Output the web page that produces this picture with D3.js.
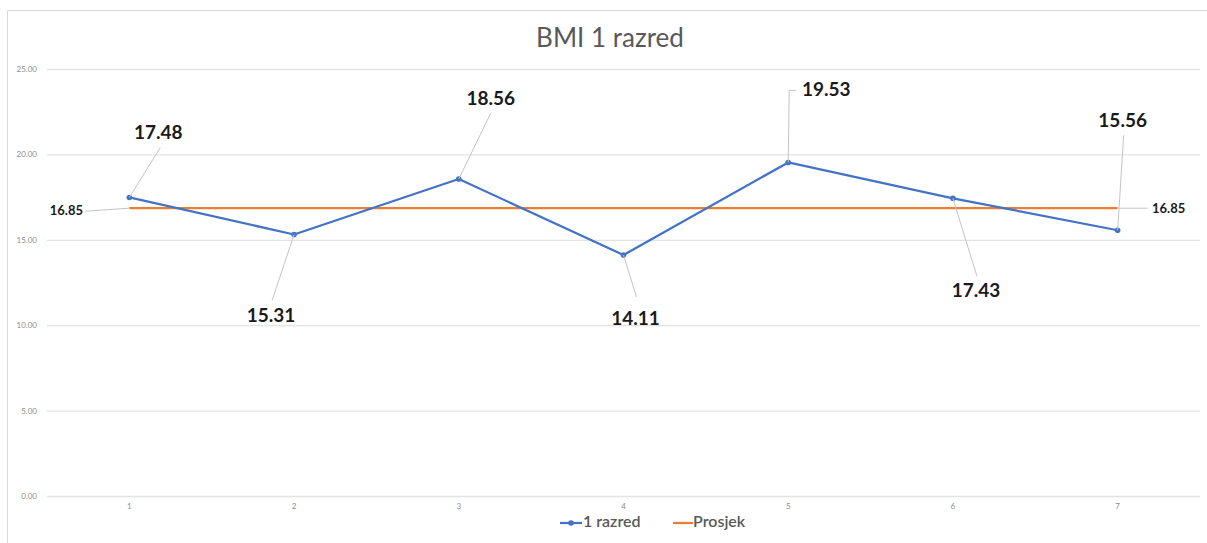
<!DOCTYPE html>
<html><head><meta charset="utf-8">
<script src="https://cdn.jsdelivr.net/npm/d3@7/dist/d3.min.js"></script>
<style>html,body{margin:0;padding:0;background:#fff;}svg{display:block;}</style>
</head><body>
<svg id="c" width="1207" height="543"></svg>
<script>
const title = "BMI 1 razred";
const categories = ["1","2","3","4","5","6","7"];
const seriesName = "1 razred";
const values = [17.48, 15.31, 18.56, 14.11, 19.53, 17.43, 15.56];
const avgName = "Prosjek";
const avgValues = [16.85, 16.85, 16.85, 16.85, 16.85, 16.85, 16.85];
const yTicks = [0, 5, 10, 15, 20, 25];

// label layout offsets (pixels from point): label centre dx,dy and leader end lx,ly
const labelLayout = [
  {dx:29, dy:-63, lx:31, ly:-50},
  {dx:-23, dy:83, lx:-22, ly:66},
  {dx:32, dy:-79, lx:32, ly:-66},
  {dx:12, dy:65, lx:13, ly:42},
  {dx:38, dy:-71, lx:1, ly:-72, elbow:7},
  {dx:23, dy:94, lx:24, ly:78},
  {dx:5, dy:-108, lx:6, ly:-95}
];

const svg = d3.select("#c");
const W = 1207, H = 543;
const m = {left:47, right:7, top:69, bottom:47};
const x = d3.scaleBand().domain(categories).range([m.left, W - m.right]);
const y = d3.scaleLinear().domain([0, 25]).range([H - m.bottom, m.top]);
const cx = c => x(c) + x.bandwidth()/2;
const font = "Lato, 'Liberation Sans', sans-serif";

// frame
svg.append("line").attr("x1",7.5).attr("x2",7.5).attr("y1",10.5).attr("y2",H).attr("stroke","#d9d9d9");
svg.append("line").attr("x1",7.5).attr("x2",W).attr("y1",10.5).attr("y2",10.5).attr("stroke","#d9d9d9");

// title
svg.append("text").attr("x",610).attr("y",40).attr("text-anchor","middle").attr("dominant-baseline","middle")
  .attr("font-family",font).attr("font-size",26).attr("fill","#595959").text(title);

// grid
const yAxis = d3.axisLeft(y).tickValues(yTicks).tickFormat(d3.format(".2f")).tickSize(-(W - m.right - m.left)).tickPadding(10);
const gy = svg.append("g").attr("transform",`translate(${m.left},0)`).call(yAxis);
gy.select(".domain").remove();
gy.selectAll(".tick line").attr("stroke","#e3e3e3").attr("stroke-width",1.3);
gy.selectAll(".tick text").attr("font-family",font).attr("font-size",8).attr("fill","#8c8c8c");

const xAxis = d3.axisBottom(x).tickSize(0).tickPadding(7);
const gx = svg.append("g").attr("transform",`translate(0,${H - m.bottom})`).call(xAxis);
gx.select(".domain").remove();
gx.selectAll(".tick text").attr("font-family",font).attr("font-size",8).attr("fill","#8c8c8c");

// average line
const line = d3.line().x((d,i)=>cx(categories[i])).y(d=>y(d));
svg.append("path").datum(avgValues).attr("d",line).attr("fill","none").attr("stroke","#ED7D31").attr("stroke-width",2.25);

// series line
svg.append("path").datum(values).attr("d",line).attr("fill","none").attr("stroke","#4472C4").attr("stroke-width",2.25).attr("stroke-linejoin","round");
svg.selectAll("circle.pt").data(values).join("circle").attr("class","pt")
  .attr("cx",(d,i)=>cx(categories[i])).attr("cy",d=>y(d)).attr("r",2.8).attr("fill","#4472C4");

// leader lines + labels
const lg = svg.append("g");
values.forEach((v,i)=>{
  const px = cx(categories[i]), py = y(v), L = labelLayout[i];
  let pts = [[px,py],[px+L.lx,py+L.ly]];
  if (L.elbow) pts.push([px+L.lx+L.elbow, py+L.ly]);
  lg.append("path").attr("d",d3.line()(pts)).attr("fill","none").attr("stroke","#c4c4c4").attr("stroke-width",1);
  lg.append("text").attr("x",px+L.dx).attr("y",py+L.dy).attr("text-anchor","middle").attr("dominant-baseline","middle")
    .attr("font-family",font).attr("font-weight","bold").attr("font-size",19).attr("fill","#1a1a1a").text(d3.format(".2f")(v));
});
// average labels (first and last)
const a0x = cx(categories[0]), a0y = y(avgValues[0]);
lg.append("path").attr("d",d3.line()([[a0x,a0y],[a0x-44,a0y+3]])).attr("fill","none").attr("stroke","#c4c4c4");
lg.append("text").attr("x",a0x-63).attr("y",a0y+3).attr("text-anchor","middle").attr("dominant-baseline","middle")
  .attr("font-family",font).attr("font-weight","bold").attr("font-size",13).attr("fill","#1a1a1a").text(d3.format(".2f")(avgValues[0]));
const n = avgValues.length - 1;
const a1x = cx(categories[n]), a1y = y(avgValues[n]);
lg.append("path").attr("d",d3.line()([[a1x,a1y],[a1x+30,a1y]])).attr("fill","none").attr("stroke","#c4c4c4");
lg.append("text").attr("x",a1x+51).attr("y",a1y+1).attr("text-anchor","middle").attr("dominant-baseline","middle")
  .attr("font-family",font).attr("font-weight","bold").attr("font-size",13).attr("fill","#1a1a1a").text(d3.format(".2f")(avgValues[n]));

// legend
const leg = svg.append("g").attr("transform","translate(560,523)");
leg.append("line").attr("x1",0).attr("x2",22).attr("stroke","#4472C4").attr("stroke-width",2.25);
leg.append("circle").attr("cx",11).attr("r",2.8).attr("fill","#4472C4");
leg.append("text").attr("x",23).attr("dominant-baseline","middle").attr("font-family",font).attr("font-weight",600).attr("font-size",16).attr("fill","#595959").text(seriesName);
leg.append("line").attr("x1",113).attr("x2",133).attr("stroke","#ED7D31").attr("stroke-width",2.25);
leg.append("text").attr("x",133).attr("dominant-baseline","middle").attr("font-family",font).attr("font-weight",600).attr("font-size",16).attr("fill","#595959").text(avgName);
</script>
</body></html>
